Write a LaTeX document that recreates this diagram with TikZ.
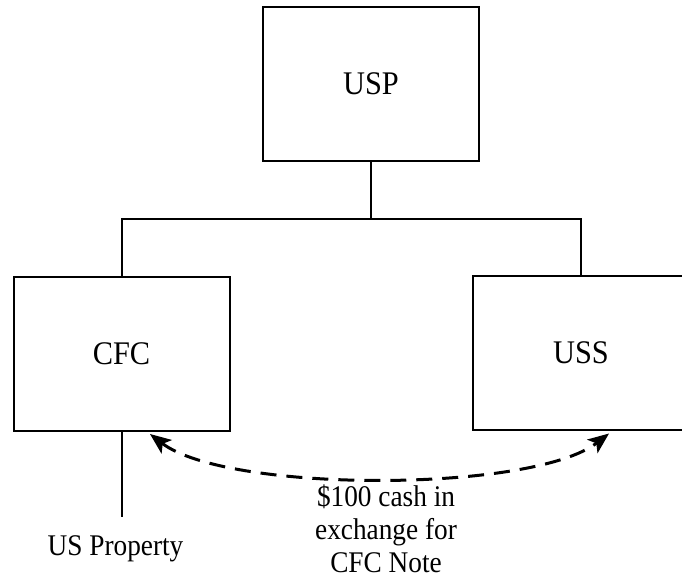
\documentclass[tikz,border=0pt]{standalone}
\usepackage{fontspec}
\setmainfont{Liberation Serif}
\usetikzlibrary{arrows.meta,positioning}
\newcommand{\squeeze}[2]{\scalebox{#1}[1]{#2}}

\begin{document}
\begin{tikzpicture}[x=1pt, y=-1pt,
  entity/.style={draw, line width=2pt, minimum width=216pt, minimum height=154pt,
                 font=\fontsize{33}{38}\selectfont},
  lbl/.style={font=\fontsize{30}{33}\selectfont, align=center, inner sep=0pt},
  own/.style={line width=2pt},
  swap/.style={line width=3pt, dash pattern=on 16pt off 10pt,
               {Stealth[length=21pt,width=17pt,inset=5pt]}-{Stealth[length=21pt,width=17pt,inset=5pt]}}]
\clip (0,0) rectangle (682,575);

% entities
\node[entity] (usp) at (371,84) {\squeeze{0.92}{USP}};
\node[entity] (cfc) at (121.5,354) {\squeeze{0.92}{CFC}};
\node[entity] (uss) at (581,352.5) {\squeeze{0.92}{USS}};

% ownership lines
\coordinate (bar) at (371,219);
\draw[own] (usp.south) -- (bar);
\draw[own] (cfc.north) |- (bar) -| (uss.north);

% US property held by CFC
\node[lbl, anchor=base] (prop) at (115.5,555) {\squeeze{0.91}{US Property}};
\coordinate (propstem) at (cfc.south |- 0,517);
\draw[own] (cfc.south) -- (propstem);

% loan transaction
\coordinate (cfcin) at ([xshift=28.5pt,yshift=-2pt]cfc.south);
\coordinate (ussin) at ([xshift=28pt,yshift=-3pt]uss.south);
\draw[swap] (cfcin) .. controls (227,493) and (532,493) .. (ussin);
\node[lbl] (loan) at (386,529) {\squeeze{0.91}{\$100 cash in}\\\squeeze{0.91}{exchange for}\\\squeeze{0.91}{CFC Note}};
\end{tikzpicture}
\end{document}
